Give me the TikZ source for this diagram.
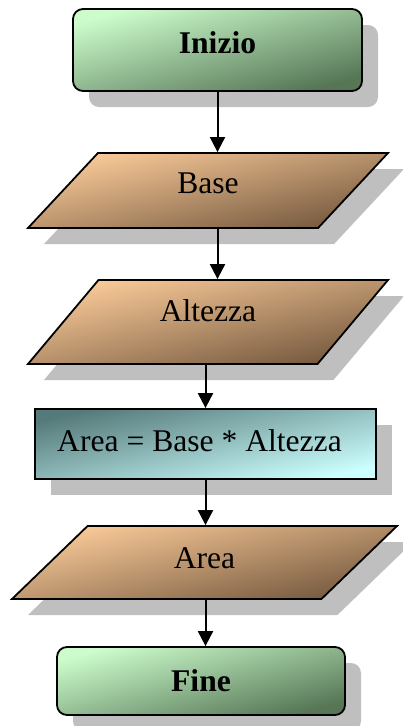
\documentclass[tikz,border=0pt]{standalone}
\usepackage{fontspec}
\setmainfont{Liberation Serif}
\usepackage{xcolor}
\usetikzlibrary{arrows.meta, shapes.geometric, shadows}

\definecolor{verdechiaro}{RGB}{204,252,204}
\definecolor{verdescuro}{RGB}{86,118,86}
\definecolor{pescachiaro}{RGB}{252,204,154}
\definecolor{pescascuro}{RGB}{116,88,62}
\definecolor{ciano}{RGB}{204,255,255}
\definecolor{verdeacqua}{RGB}{86,122,122}

\begin{document}
\begin{tikzpicture}[x=1pt, y=-1pt]
\tikzstyle{every node}=[font=\fontsize{31.6}{36}\selectfont, inner sep=0pt, draw=black, line width=1.8pt]
\tikzstyle{ombra}=[drop shadow={shadow xshift=16pt, shadow yshift=-16pt, fill=black!25, opacity=1}]
\tikzstyle{terminale}=[rectangle, rounded corners=10pt, ombra, top color=verdechiaro, bottom color=verdescuro, shading angle=15, font=\fontsize{31.6}{36}\selectfont\bfseries]
\tikzstyle{dato}=[trapezium, trapezium stretches body, ombra, top color=pescachiaro, bottom color=pescascuro, shading angle=13]
\tikzstyle{calcolo}=[rectangle, ombra, top color=verdeacqua, bottom color=ciano, shading angle=13]
\tikzstyle{freccia}=[-{Triangle[width=15pt, length=15pt]}, line width=2pt]

\useasboundingbox (0, 0) rectangle (403, 726);

\node[terminale, minimum width=289pt, minimum height=82pt, text height=20pt, text depth=14pt] (inizio) at (217.5, 50) {Inizio};

\node[dato, trapezium left angle=47, trapezium right angle=133, minimum width=360pt, text height=40pt, text depth=35pt] (base) at (208, 190.5) {Base};

\node[dato, trapezium left angle=50, trapezium right angle=130, minimum width=360pt, text height=41pt, text depth=43pt] (altezza) at (208, 322) {Altezza};

\node[calcolo, minimum width=341pt, minimum height=70pt, text height=28pt, text depth=14pt] (calc) at (205.5, 444) {Area = Base * Altezza\hspace*{12pt}};

\node[dato, trapezium left angle=44, trapezium right angle=136, minimum width=385pt, text height=42pt, text depth=31pt] (area) at (204.5, 562.5) {Area};

\node[terminale, minimum width=288pt, minimum height=68pt, text height=34pt, text depth=14pt] (fine) at (201, 681) {Fine};

% frecce
\draw[freccia] (inizio) -- (inizio |- base.north);
\draw[freccia] (base.south -| inizio) -- (altezza.north -| inizio);
\draw[freccia] (altezza.south -| calc) -- (calc);
\draw[freccia] (calc) -- (calc |- area.north);
\draw[freccia] (area.south -| calc) -- (fine.north -| calc);

\end{tikzpicture}
\end{document}
